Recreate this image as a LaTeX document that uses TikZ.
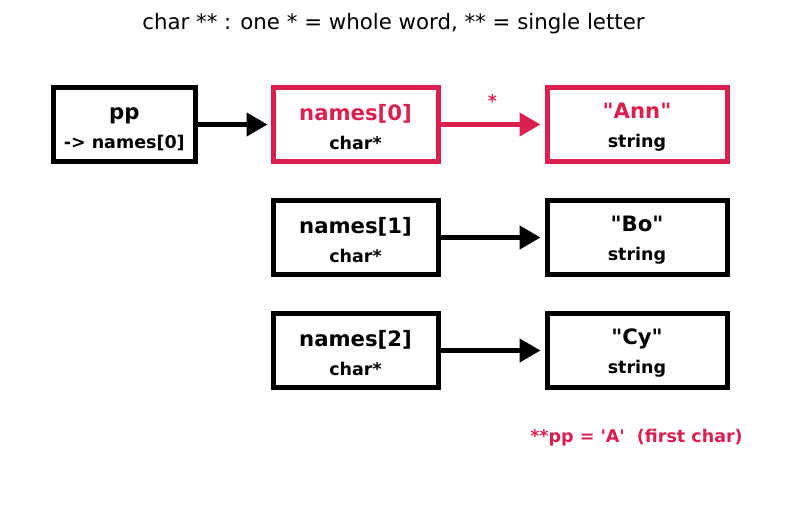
\documentclass[tikz,border=0pt]{standalone}
\usepackage{fontspec}
\setmainfont{DejaVu Sans}[Ligatures=TeXOff]
\usetikzlibrary{arrows.meta}
\definecolor{hot}{RGB}{219,32,80}
\tikzset{
    cell/.style={draw, line width=5pt, minimum height=74pt, align=center, inner sep=0pt, font=\bfseries\fontsize{17.5}{21}\selectfont},
    link/.style={->, line width=4.5pt},
}
\newcommand{\celltop}[1]{{\fontsize{21.2}{25}\selectfont\rule{0pt}{21pt}#1}}
\newcommand{\cellsub}[1]{{#1}}
\begin{document}
\begin{tikzpicture}[x=1pt, y=-1pt, >={Triangle[length=21pt,width=23pt]}]
            \useasboundingbox (0,0) rectangle (787,508);
            \node (title) at (393.5,24) {\fontsize{21.3}{25}\selectfont char ** : one * = whole word, ** = single letter};
            % pointer to pointer
            \node[cell, minimum width=142pt] (pp) at (124.25,124.5) {\celltop{pp}\\[8pt]\cellsub{-> names[0]}};
            % the array of char*
            \node[cell, minimum width=165pt, hot] (n0) at (355.5,124.5) {\celltop{names[0]}\\[8pt]\cellsub{\color{black}char*}};
            \node[cell, minimum width=165pt] (n1) at (355.5,237.5) {\celltop{names[1]}\\[8pt]\cellsub{char*}};
            \node[cell, minimum width=165pt] (n2) at (355.5,350.5) {\celltop{names[2]}\\[8pt]\cellsub{char*}};
            % the strings
            \node[cell, minimum width=180pt, hot] (s0) at (637,124.5) {\celltop{"Ann"}\\[8pt]\cellsub{\color{black}string}};
            \node[cell, minimum width=180pt] (s1) at (637,237.5) {\celltop{"Bo"}\\[8pt]\cellsub{string}};
            \node[cell, minimum width=180pt] (s2) at (637,350.5) {\celltop{"Cy"}\\[8pt]\cellsub{string}};
            \draw[link, shorten >=3pt] (pp) -- (n0);
            \draw[link, hot, shorten >=4pt] (n0) -- (s0) node[midway, above=11pt, font=\bfseries\fontsize{17.5}{21}\selectfont] (star) {*};
            \draw[link, shorten >=4pt] (n1) -- (s1);
            \draw[link, shorten >=4pt] (n2) -- (s2);
            \node[hot, font=\bfseries\fontsize{17.5}{21}\selectfont] (note) at (636.5,437.5) {**pp = 'A'\ \ (first char)};
        \end{tikzpicture}
\end{document}
